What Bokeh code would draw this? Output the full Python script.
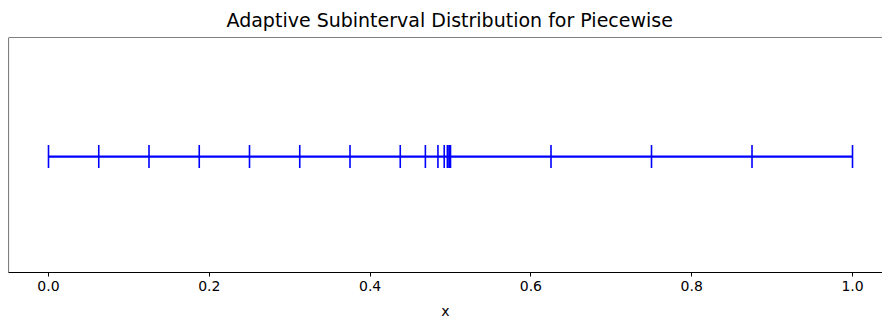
import numpy as np
from bokeh.plotting import figure
from bokeh.models import ColumnDataSource, Range1d, FixedTicker, Span
from bokeh.embed import file_html
from bokeh.resources import INLINE

# Subinterval endpoints (adaptive refinement near x = 0.5)
points = [0.0, 0.0625, 0.125, 0.1875, 0.25, 0.3125, 0.375, 0.4375,
          0.46875, 0.484375, 0.4921875, 0.49609375, 0.498046875,
          0.4990234375, 0.49951171875, 0.5, 0.625, 0.75, 0.875, 1.0]
levels = [0.0] * len(points)
tick_values = [0.0, 0.2, 0.4, 0.6, 0.8, 1.0]
tick_labels = ["0.0", "0.2", "0.4", "0.6", "0.8", "1.0"]

FONT = "DejaVu Sans"
x_start, x_end = -0.04975, 1.0373
y_start, y_end = -0.987, 1.013

p = figure(width=882, height=321, output_backend="svg", toolbar_location=None,
           x_range=Range1d(x_start, x_end), y_range=Range1d(y_start, y_end),
           min_border_left=8, min_border_right=0, min_border_top=0, min_border_bottom=0)

p.title.text = "Adaptive Subinterval Distribution for Piecewise"
p.title.align = "left"
p.title.text_font = FONT
p.title.text_font_size = "19px"
p.title.text_font_style = "normal"
p.title.text_color = "#000000"
p.title.offset = 218
p.title.standoff = 13

p.outline_line_color = None
p.grid.visible = False
p.yaxis.visible = False
p.background_fill_color = "white"
p.border_fill_color = "white"

xa = p.xaxis[0]
xa.ticker = FixedTicker(ticks=tick_values)
xa.major_label_overrides = {v: s for v, s in zip(tick_values, tick_labels)}
xa.minor_tick_line_color = None
xa.major_tick_out = 4
xa.major_tick_in = 0
xa.major_label_standoff = 4
xa.major_label_text_font = FONT
xa.major_label_text_font_size = "14px"
xa.major_label_text_color = "#000000"
xa.axis_label = "x"
xa.axis_label_text_font = FONT
xa.axis_label_text_font_size = "14px"
xa.axis_label_text_font_style = "normal"
xa.axis_label_text_color = "#000000"
xa.axis_label_standoff = 9
xa.axis_line_color = "#000000"
xa.axis_line_width = 1.1
xa.major_tick_line_color = "#000000"

p.add_layout(Span(location=x_start, dimension="height", line_color="#000000", line_width=1.1))
p.add_layout(Span(location=y_end, dimension="width", line_color="#000000", line_width=1.1))

src = ColumnDataSource(dict(x=points, y=levels))
p.line("x", "y", source=src, line_color="#0000ff", line_width=2.2)
p.scatter("x", "y", source=src, marker="dash", angle=np.pi / 2, size=23,
          line_color="#0000ff", line_width=1.6, fill_color=None)

open("out.html", "w").write(file_html(p, INLINE))
